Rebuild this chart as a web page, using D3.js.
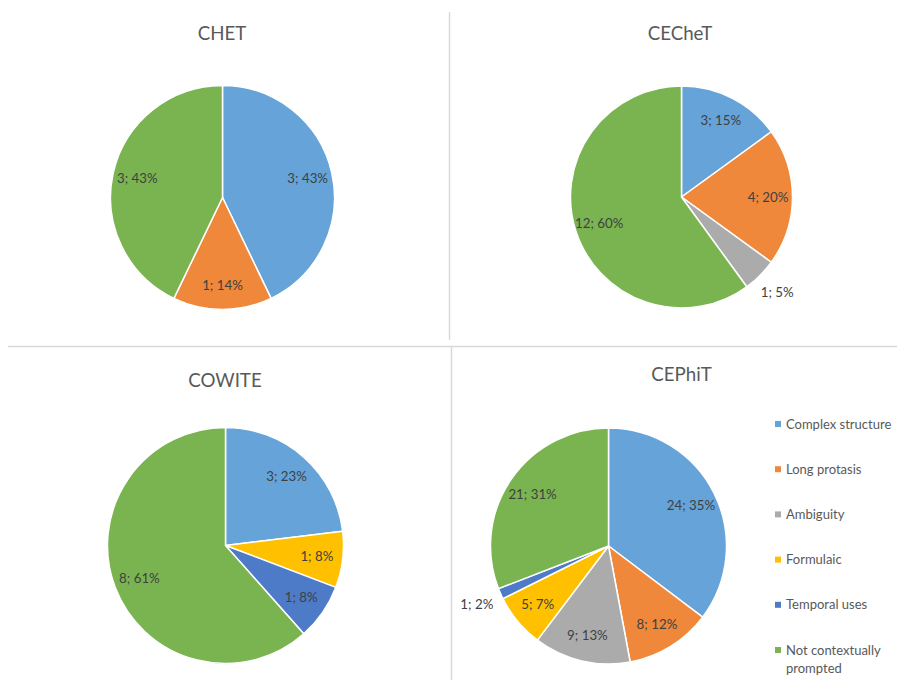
<!DOCTYPE html>
<html>
<head>
<meta charset="utf-8">
<script src="https://cdn.jsdelivr.net/npm/d3@7"></script>
<style>
    body { margin: 0; background: #fff; }
    svg { display: block; font-family: Lato, "Liberation Sans", sans-serif; }
</style>
</head>
<body>
<div id="chart"></div>
<script>
// categories shared by all four pies
const categories = ["Complex structure", "Long protasis", "Ambiguity", "Formulaic", "Temporal uses", "Not contextually prompted"];
const colors = ["#65a3d8", "#ef883a", "#ababab", "#ffc000", "#4d7bc8", "#7ab450"];

// counts per corpus (0 = category absent)
const chetValues   = [3, 1, 0, 0, 0, 3];
const chetPct      = [43, 14, 0, 0, 0, 43];
const cechetValues = [3, 4, 1, 0, 0, 12];
const cechetPct    = [15, 20, 5, 0, 0, 60];
const cowiteValues = [3, 0, 0, 1, 1, 8];
const cowitePct    = [23, 0, 0, 8, 8, 61];
const cephitValues = [24, 8, 9, 5, 1, 21];
const cephitPct    = [35, 12, 13, 7, 2, 31];

const width = 897, height = 680;

const svg = d3.select("#chart").append("svg")
    .attr("width", width)
    .attr("height", height);

// panel dividers
svg.append("line").attr("x1", 449.5).attr("x2", 449.5).attr("y1", 12).attr("y2", 340)
    .attr("stroke", "#d9d9d9").attr("stroke-width", 1.5);
svg.append("line").attr("x1", 8).attr("x2", width).attr("y1", 346.5).attr("y2", 346.5)
    .attr("stroke", "#d9d9d9").attr("stroke-width", 1.5);
svg.append("line").attr("x1", 451.5).attr("x2", 451.5).attr("y1", 346).attr("y2", height)
    .attr("stroke", "#d9d9d9").attr("stroke-width", 1.5);

const panels = [
    { title: "CHET",   values: chetValues,   pct: chetPct,   cx: 222.5, cy: 197.5, r: 112, tx: 222,   ty: 40 },
    { title: "CECheT", values: cechetValues, pct: cechetPct, cx: 681.5, cy: 197,   r: 111, tx: 680,   ty: 40 },
    { title: "COWITE", values: cowiteValues, pct: cowitePct, cx: 225.5, cy: 545.5, r: 118, tx: 225,   ty: 387 },
    { title: "CEPhiT", values: cephitValues, pct: cephitPct, cx: 608.5, cy: 546,   r: 118, tx: 681.5, ty: 381 }
];

const pie = d3.pie().sort(null).value(d => d.value);

panels.forEach(p => {
    const rows = categories.map((c, i) => ({ name: c, value: p.values[i], pct: p.pct[i], color: colors[i] }))
        .filter(d => d.value > 0);
    const total = d3.sum(rows, d => d.value);
    const arcs = pie(rows);

    svg.append("text")
        .attr("x", p.tx).attr("y", p.ty)
        .attr("text-anchor", "middle")
        .attr("font-size", 18.7)
        .attr("fill", "#595959")
        .text(p.title);

    const g = svg.append("g").attr("transform", `translate(${p.cx},${p.cy})`);
    const arc = d3.arc().innerRadius(0).outerRadius(p.r);

    g.selectAll("path")
        .data(arcs)
        .join("path")
        .attr("d", arc)
        .attr("fill", d => d.data.color)
        .attr("stroke", "#fff")
        .attr("stroke-width", 1.5)
        .attr("stroke-linejoin", "round");

    // small slices get their label outside the pie
    g.selectAll("text.lbl")
        .data(arcs)
        .join("text")
        .attr("class", "lbl")
        .attr("transform", d => {
            const a = (d.startAngle + d.endAngle) / 2;
            const k = d.data.value / total <= 0.05 ? 1.22 : 0.78;
            return `translate(${Math.sin(a) * p.r * k},${-Math.cos(a) * p.r * k})`;
        })
        .attr("text-anchor", "middle")
        .attr("dy", "0.35em")
        .attr("font-size", 13.3)
        .attr("fill", "#404040")
        .text(d => `${d.data.value}; ${d.data.pct}%`);
});

// legend
const legend = svg.append("g").attr("transform", "translate(775,424)");
const rowStep = 45.2;
categories.forEach((c, i) => {
    const row = legend.append("g").attr("transform", `translate(0,${i * rowStep})`);
    row.append("rect").attr("x", 0).attr("y", -3).attr("width", 6).attr("height", 6).attr("fill", colors[i]);
    const t = row.append("text")
        .attr("x", 11).attr("dy", "0.35em")
        .attr("font-size", 13)
        .attr("fill", "#595959");
    if (c === "Not contextually prompted") {
        t.append("tspan").attr("x", 11).text("Not contextually");
        t.append("tspan").attr("x", 11).attr("dy", 18).text("prompted");
    } else {
        t.text(c);
    }
});
</script>
</body>
</html>
